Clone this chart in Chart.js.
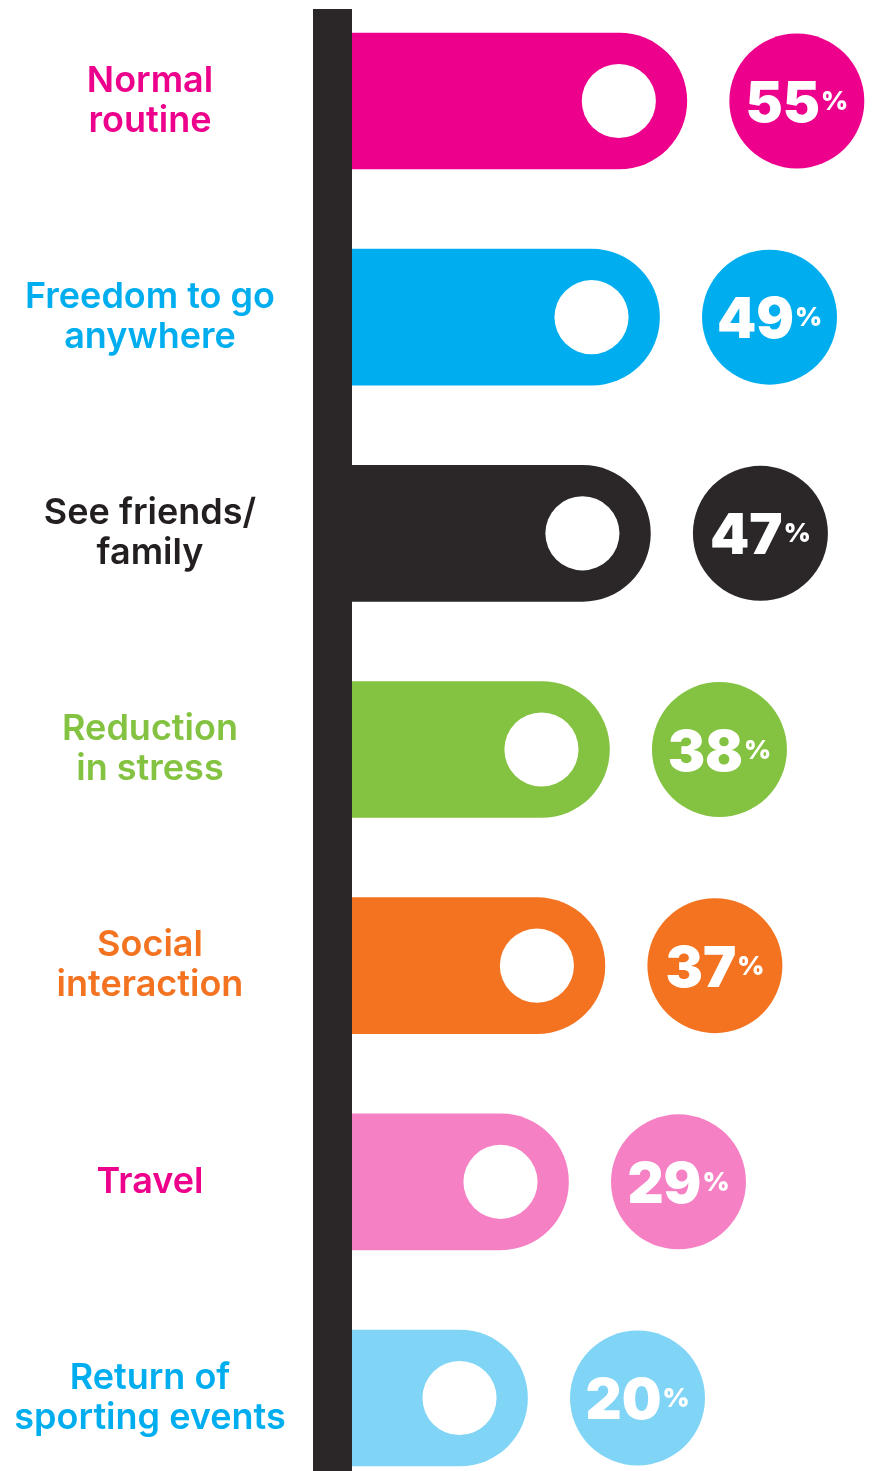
<!DOCTYPE html>
<html>
<head>
<meta charset="utf-8">
<title>What people miss most</title>
<script src="https://cdn.jsdelivr.net/npm/chart.js@4.4.1/dist/chart.umd.min.js"></script>
<style>
  html, body { margin: 0; padding: 0; background: #ffffff; }
  canvas { display: block; }
</style>
</head>
<body>
<canvas id="chart" width="878" height="1471"></canvas>
<script>
// Category labels (one array entry per line)
const categories = [
  ['Normal', 'routine'],
  ['Freedom to go', 'anywhere'],
  ['See friends/', 'family'],
  ['Reduction', 'in stress'],
  ['Social', 'interaction'],
  ['Travel'],
  ['Return of', 'sporting events']
];

// Share of respondents, percent
const values = [55, 49, 47, 38, 37, 29, 20];

const barColors = ['#EC008C', '#00AEEF', '#2B2728', '#84C341', '#F37321', '#F580C4', '#80D5F6'];
const labelColors = ['#EC008C', '#00AEEF', '#231F20', '#84C341', '#F37321', '#EC008C', '#00AEEF'];
const valueSuffix = '%';

// Value axis range; bars grow from the left edge of the axis
const axisMin = -19;
const axisMax = 97;

const AXIS_WIDTH = 350;      // room for the category labels
const LABEL_CENTER = 150;    // horizontal centre of the label column
const labelFont = { family: 'Inter, "Open Sans", sans-serif', size: 36, weight: '600', lineHeight: 40 / 36 };
const numFont = '900 56px Inter, "DejaVu Sans", sans-serif';
const pctFont = '900 26px Inter, "DejaVu Sans", sans-serif';

// Widest label line, so the column can be centred
function widestLabel() {
  const ctx = document.createElement('canvas').getContext('2d');
  ctx.font = `${labelFont.weight} ${labelFont.size}px ${labelFont.family}`;
  let w = 0;
  categories.forEach(lines => lines.forEach(l => { w = Math.max(w, ctx.measureText(l).width); }));
  return w;
}
const labelPadding = AXIS_WIDTH - LABEL_CENTER - widestLabel() / 2;

// Spine, inner holes and value badges drawn around the bars
const decorPlugin = {
  id: 'decor',
  afterDatasetsDraw(chart) {
    const ctx = chart.ctx;
    const meta = chart.getDatasetMeta(0);
    ctx.save();
    meta.data.forEach((bar, i) => {
      const r = bar.height / 2;
      // white hole in the rounded end
      ctx.fillStyle = '#ffffff';
      ctx.beginPath();
      ctx.arc(bar.x - r, bar.y, r * 0.545, 0, Math.PI * 2);
      ctx.fill();

      // value badge
      const cx = bar.x + 110;
      const cy = bar.y;
      ctx.fillStyle = barColors[i];
      ctx.beginPath();
      ctx.arc(cx, cy, 67.5, 0, Math.PI * 2);
      ctx.fill();

      const num = String(values[i]);
      ctx.fillStyle = '#ffffff';
      ctx.textBaseline = 'alphabetic';
      ctx.textAlign = 'left';
      ctx.font = numFont;
      const wNum = ctx.measureText(num).width;
      ctx.font = pctFont;
      const wPct = ctx.measureText(valueSuffix).width;
      const gap = 1;
      const x0 = cx - (wNum + gap + wPct) / 2;
      ctx.font = numFont;
      ctx.fillText(num, x0, cy + 21);
      ctx.font = pctFont;
      ctx.fillText(valueSuffix, x0 + wNum + gap, cy + 9);
    });

    // dark vertical spine
    const left = chart.chartArea.left;
    ctx.fillStyle = '#2B2728';
    ctx.fillRect(left - 37, 9, 39, chart.height - 9);
    ctx.restore();
  }
};

new Chart(document.getElementById('chart'), {
  type: 'bar',
  data: {
    labels: categories,
    datasets: [{
      data: values,
      base: axisMin,
      backgroundColor: barColors,
      barThickness: 136,
      borderRadius: { topLeft: 0, bottomLeft: 0, topRight: 68, bottomRight: 68 },
      borderSkipped: false,
      clip: false
    }]
  },
  options: {
    indexAxis: 'y',
    responsive: false,
    animation: false,
    devicePixelRatio: 1,
    layout: { padding: { top: 101, bottom: 73, left: 0, right: 0 } },
    plugins: {
      legend: { display: false },
      tooltip: { enabled: false }
    },
    scales: {
      x: {
        display: false,
        min: axisMin,
        max: axisMax
      },
      y: {
        offset: false,
        grid: { display: false, drawTicks: false },
        border: { display: false },
        ticks: {
          crossAlign: 'center',
          padding: labelPadding,
          font: labelFont,
          color: ctx => labelColors[ctx.index]
        },
        afterFit(scale) {
          scale.width = AXIS_WIDTH;
          scale.paddingTop = 0;
          scale.paddingBottom = 0;
        }
      }
    }
  },
  plugins: [decorPlugin]
});
</script>
</body>
</html>
